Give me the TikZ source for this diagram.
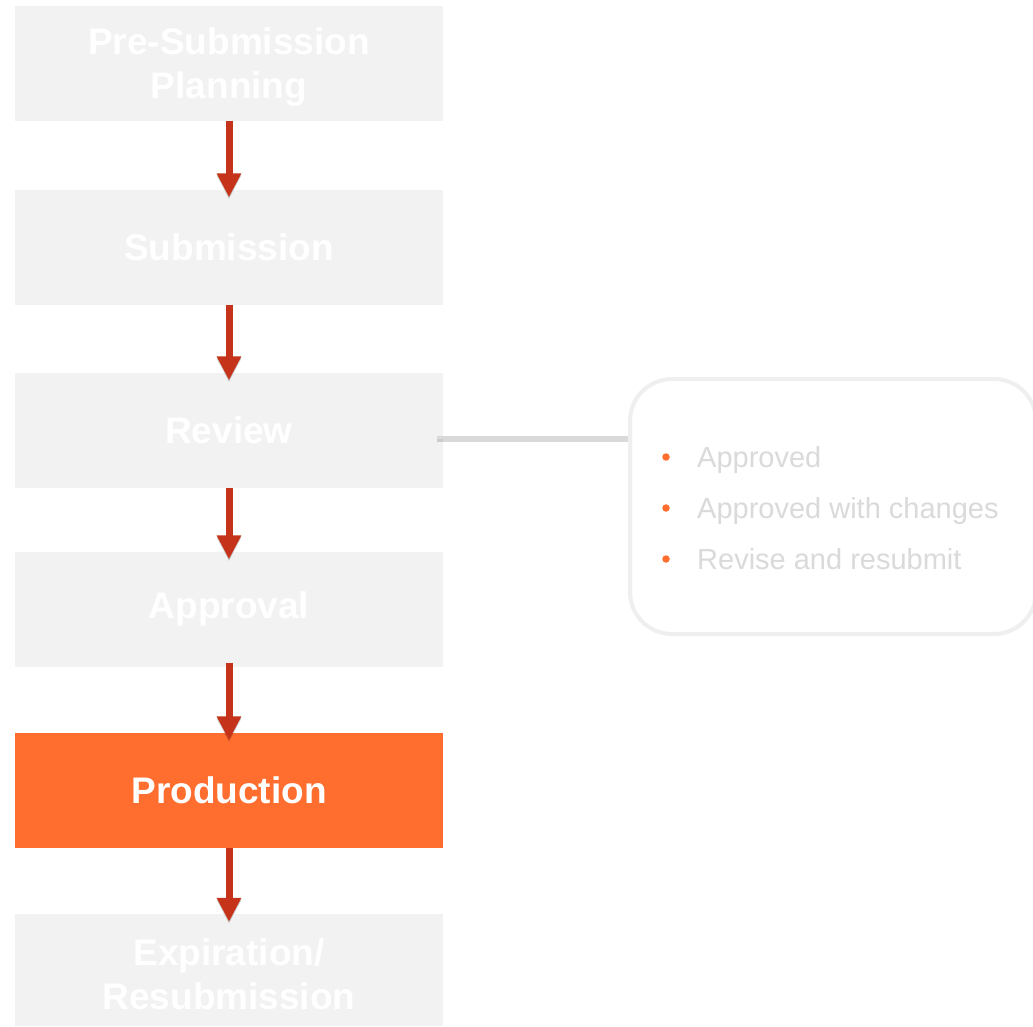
\documentclass[tikz,border=0pt]{standalone}
\usepackage{fontspec}
\setmainfont{Liberation Sans}
\usetikzlibrary{arrows.meta}
\definecolor{stepgray}{HTML}{F2F2F2}
\definecolor{steporange}{HTML}{FF6E2F}
\definecolor{arrowred}{HTML}{C5341A}
\definecolor{optgray}{HTML}{DADADA}
\definecolor{frame}{HTML}{EFEFEF}
\tikzset{
  steptext/.style={align=center, text=white, inner sep=0pt,
    font=\fontsize{37}{44}\selectfont\bfseries},
  stepbox/.style={steptext, fill=stepgray, draw=none, minimum width=428pt,
    minimum height=115pt},
  current/.style={stepbox, fill=steporange},
  twoline/.style={label={[steptext, yshift=-4pt]center:#1}},
  flow/.style={draw=arrowred, line width=7pt, -{Triangle[width=23pt,length=24pt]},
    preaction={draw=black, opacity=0.18, line width=7pt,
      -{Triangle[width=23pt,length=24pt]}, transform canvas={yshift=-2pt}}},
  item/.style={anchor=base west, text=optgray, inner sep=0pt,
    font=\fontsize{29}{34}\selectfont},
  dot/.style={circle, fill=steporange, inner sep=0pt, minimum size=7.5pt},
}
\begin{document}
\begin{tikzpicture}[x=1pt, y=-1pt]
\useasboundingbox[fill=white] (0,0) rectangle (1033,1026);

% process steps
\node[stepbox, twoline={Pre-Submission\\Planning}] (plan) at (229,63) {};
\node[stepbox] (sub)  at (229,247)  {Submission};
\node[stepbox] (rev)  at (229,430)  {Review};
\node[stepbox] (appr) at (229,609)  {Approval};
\node[current] (prod) at (229,790)  {Production};
\node[stepbox, minimum height=112pt, twoline={Expiration/\\Resubmission}] (exp) at (229,970) {};

% arrows between steps
\draw[flow] (plan.south) -- ([yshift=-8pt]sub.north);
\draw[flow] (sub.south)  -- ([yshift=-8pt]rev.north);
\draw[flow] (rev.south)  -- ([yshift=-8pt]appr.north);
\draw[flow] ([yshift=4pt]appr.south) -- ([yshift=-8pt]prod.north);
\draw[flow] (prod.south) -- ([yshift=-8pt]exp.north);

% review outcomes callout
\node[draw=frame, line width=4pt, rounded corners=42pt, fill=white,
      minimum width=406pt, minimum height=255pt] (opts) at (833,506.5) {};
\coordinate (tap) at ([xshift=-6pt,yshift=-7pt]rev.east);
\draw[line width=3pt, black, opacity=0.15, transform canvas={yshift=-3pt}]
  (tap) -- (tap -| opts.west);
\draw[line width=3pt, optgray] (tap) -- (tap -| opts.west);

\node[dot] (d1) at (666,457) {};
\node[dot] (d2) at (666,508) {};
\node[dot] (d3) at (666,559) {};
\node[item] (o1) at (697,467) {Approved};
\node[item] (o2) at (697,518) {Approved with changes};
\node[item] (o3) at (697,569) {Revise and resubmit};
\end{tikzpicture}
\end{document}
